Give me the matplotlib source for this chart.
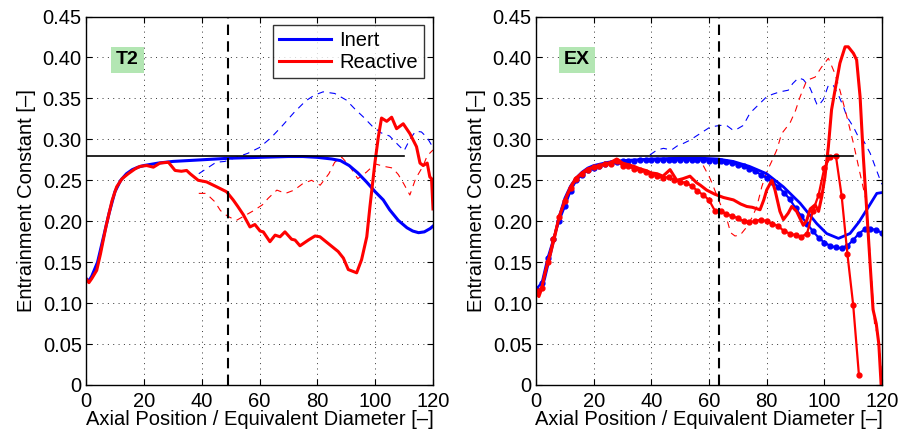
import matplotlib
matplotlib.use("Agg")
import matplotlib.pyplot as plt
from matplotlib.ticker import FixedLocator, FuncFormatter

plt.rcParams['font.family'] = ['Liberation Sans', 'DejaVu Sans']

# ---------------- Data: T2 (left) ----------------
t2_inert_x = [0, 1, 2, 4, 6, 8, 10, 12, 14, 16, 18, 20, 25, 30, 35, 40, 50, 60, 70, 75, 80, 85,
              88, 91, 94, 97, 100, 102.8, 105, 108, 111, 113, 115, 117, 119, 120]
t2_inert_y = [0.130, 0.127, 0.133, 0.150, 0.180, 0.210, 0.236, 0.250, 0.258, 0.263, 0.266, 0.268,
              0.271, 0.273, 0.274, 0.275, 0.277, 0.278, 0.279, 0.279, 0.278, 0.276,
              0.274, 0.268, 0.259, 0.248, 0.236, 0.226, 0.214, 0.201, 0.192, 0.188, 0.186, 0.187,
              0.191, 0.194]

t2_react_x = [0, 1, 2, 3.7, 5, 7, 9, 10.6, 12.5, 14.6, 17, 18.7, 21, 23.3, 25.6, 28.5, 30.8, 33,
              34.8, 36, 38.8, 41.7, 45.2, 48.6, 50.9, 52.5, 54.4, 56.7, 58.4, 60.2, 61.3, 63.6,
              65.4, 67.1, 68.8, 71.1, 72.3, 74, 76.9, 79.2, 80.9, 84.4, 87.2, 89, 90.7, 93.6,
              95.3, 97.1, 98.2, 99.9, 101.1, 102.2, 104, 105.7, 107.4, 109.7, 112, 114.3, 115.5,
              116.6, 118, 118.9, 119.5, 120]
t2_react_y = [0.130, 0.125, 0.130, 0.140, 0.160, 0.195, 0.225, 0.242, 0.252, 0.258, 0.264, 0.267,
              0.268, 0.266, 0.271, 0.272, 0.262, 0.261, 0.262, 0.258, 0.250, 0.248, 0.242, 0.236,
              0.226, 0.218, 0.208, 0.193, 0.196, 0.188, 0.187, 0.175, 0.183, 0.181, 0.187, 0.178,
              0.177, 0.170, 0.177, 0.182, 0.181, 0.171, 0.163, 0.155, 0.141, 0.137, 0.153, 0.181,
              0.218, 0.271, 0.303, 0.326, 0.322, 0.327, 0.313, 0.319, 0.307, 0.291, 0.271, 0.268,
              0.271, 0.254, 0.252, 0.215]

t2_inert_dash_x = [39, 42, 45, 48, 52, 56, 60, 64, 68, 72, 76, 79, 82, 86, 90, 93, 96, 99, 102,
                   105, 108, 110, 112, 114, 116, 118, 120]
t2_inert_dash_y = [0.258, 0.265, 0.272, 0.273, 0.278, 0.283, 0.290, 0.302, 0.317, 0.333, 0.347,
                   0.354, 0.358, 0.356, 0.348, 0.337, 0.327, 0.316, 0.308, 0.304, 0.293, 0.286,
                   0.300, 0.310, 0.309, 0.302, 0.290]

t2_react_dash_x = [39, 41.5, 44.5, 46.5, 49, 52, 55, 58, 61, 63, 66, 69, 72, 75, 78, 81, 84, 86,
                   88.5, 91, 94, 97, 100, 103, 106, 108, 110, 112, 114, 116.5, 118, 120]
t2_react_dash_y = [0.234, 0.234, 0.224, 0.213, 0.206, 0.201, 0.207, 0.213, 0.220, 0.228, 0.238,
                   0.234, 0.238, 0.246, 0.250, 0.244, 0.258, 0.272, 0.278, 0.268, 0.252, 0.260,
                   0.270, 0.267, 0.265, 0.257, 0.245, 0.232, 0.252, 0.267, 0.280, 0.287]

# ---------------- Data: EX (right) ----------------
ex_inert_x = [0, 1, 2, 3, 4, 5, 6, 8, 10, 12, 14, 16, 18, 20, 25, 30, 40, 50, 57, 63, 68.4, 74,
              80, 85.8, 91.6, 97.4, 100.8, 104.9, 108.9, 112, 114.7, 118.2, 120]
ex_inert_y = [0.115, 0.112, 0.118, 0.130, 0.145, 0.160, 0.175, 0.205, 0.228, 0.243, 0.253, 0.260,
              0.265, 0.268, 0.272, 0.274, 0.276, 0.277, 0.277, 0.276, 0.273, 0.267, 0.258, 0.242,
              0.222, 0.197, 0.185, 0.179, 0.185, 0.199, 0.214, 0.234, 0.235]

ex_inert_mk_x = list(range(0, 121, 2))
ex_inert_mk_y = [0.117, 0.125, 0.155, 0.178, 0.200, 0.218, 0.237, 0.250, 0.257, 0.262, 0.265,
                 0.268, 0.270, 0.271, 0.272, 0.273, 0.274, 0.274, 0.275, 0.275, 0.275, 0.275,
                 0.275, 0.275, 0.275, 0.275, 0.275, 0.275, 0.275, 0.275, 0.274, 0.274, 0.273,
                 0.272, 0.271, 0.269, 0.267, 0.264, 0.261, 0.257, 0.253, 0.248, 0.242, 0.235,
                 0.227, 0.216, 0.206, 0.197, 0.188, 0.180, 0.174, 0.170, 0.168, 0.167, 0.170,
                 0.177, 0.185, 0.190, 0.191, 0.189, 0.186]

ex_react_x = [0, 1, 2, 3, 4, 5, 6.6, 8, 9.5, 11, 12.5, 14, 16, 18, 20, 22, 24, 26, 28, 30, 32, 34,
              36, 38, 40, 42, 44, 46.5, 48.8, 51, 53.4, 55.7, 57, 59.2, 62, 65, 68.5, 71, 73.1,
              75, 77.7, 79, 80, 81.8, 82.9, 84.6, 85.8, 87.5, 88.7, 90.4, 92.7, 93.9, 95.1, 96.8,
              98, 99.1, 100.2, 101.4, 102.5, 103.7, 105.4, 107.2, 108.3, 110.1, 111.2, 112.4,
              113.5, 114.5, 115.8, 116.9, 118, 118.9, 119.7]
ex_react_y = [0.113, 0.108, 0.118, 0.135, 0.148, 0.160, 0.183, 0.205, 0.220, 0.234, 0.245, 0.253,
              0.259, 0.264, 0.266, 0.268, 0.270, 0.272, 0.276, 0.271, 0.269, 0.267, 0.264, 0.262,
              0.259, 0.258, 0.255, 0.263, 0.250, 0.252, 0.255, 0.247, 0.244, 0.238, 0.233, 0.229,
              0.226, 0.221, 0.218, 0.217, 0.214, 0.226, 0.238, 0.250, 0.238, 0.212, 0.202, 0.210,
              0.218, 0.212, 0.195, 0.201, 0.215, 0.220, 0.212, 0.230, 0.254, 0.291, 0.336, 0.360,
              0.393, 0.413, 0.413, 0.405, 0.397, 0.352, 0.280, 0.225, 0.152, 0.092, 0.075, 0.050,
              0.000]

ex_react_mk_x = list(range(0, 113, 2))
ex_react_mk_y = [0.115, 0.118, 0.150, 0.178, 0.205, 0.225, 0.240, 0.252, 0.258, 0.263, 0.266,
                 0.268, 0.270, 0.270, 0.274, 0.268, 0.267, 0.264, 0.262, 0.260, 0.257, 0.255,
                 0.253, 0.254, 0.250, 0.248, 0.247, 0.243, 0.237, 0.232, 0.226, 0.213, 0.212,
                 0.209, 0.206, 0.204, 0.200, 0.199, 0.200, 0.202, 0.200, 0.197, 0.194, 0.188,
                 0.185, 0.183, 0.181, 0.185, 0.212, 0.232, 0.265, 0.278, 0.280, 0.231, 0.160,
                 0.098, 0.012]

ex_inert_dash_x = [39.5, 42, 44.2, 47, 49, 51.1, 53.4, 56.9, 60.4, 63.8, 66.1, 68, 69, 71.9, 74.2,
                   77.7, 80, 82, 84.6, 87.5, 89, 91, 92.7, 95, 97.4, 98, 99.7, 101.4, 103.1,
                   104.9, 106.6, 107.8, 110.1, 111.8, 113.5, 115.9, 119.3, 120]
ex_inert_dash_y = [0.281, 0.287, 0.289, 0.287, 0.292, 0.295, 0.299, 0.307, 0.315, 0.317, 0.317,
                   0.312, 0.311, 0.317, 0.332, 0.344, 0.352, 0.355, 0.358, 0.360, 0.368, 0.375,
                   0.373, 0.363, 0.343, 0.341, 0.349, 0.366, 0.366, 0.354, 0.340, 0.328, 0.315,
                   0.303, 0.299, 0.283, 0.251, 0.245]

ex_react_dash_x = [58, 60.4, 62, 63.8, 66, 67.5, 69, 70.8, 73.1, 75, 76.6, 78.3, 80, 82, 83.5,
                   85.2, 88.1, 90, 91.6, 93.9, 96.8, 99, 101.4, 102.5, 103.7, 105.4, 107.8, 110.1,
                   112.4, 114.7, 116, 117.4, 118.5, 119.3, 120]
ex_react_dash_y = [0.268, 0.252, 0.238, 0.222, 0.205, 0.186, 0.182, 0.183, 0.193, 0.205, 0.218,
                   0.242, 0.260, 0.275, 0.287, 0.307, 0.320, 0.335, 0.352, 0.372, 0.376, 0.388,
                   0.399, 0.390, 0.380, 0.360, 0.328, 0.295, 0.258, 0.222, 0.150, 0.075, 0.060,
                   0.040, 0.000]

# reference lines
const_value = 0.28
const_x = [0, 110]
t2_station = 49
ex_station = 63.5

x_ticks = [0, 20, 40, 60, 80, 100, 120]
y_ticks = [0, 0.05, 0.10, 0.15, 0.20, 0.25, 0.30, 0.35, 0.40, 0.45]

BLUE = '#0000ff'
RED = '#ff0000'
FS = 14.5

fig = plt.figure(figsize=(9.01, 4.38), dpi=100)
axL = fig.add_axes([86 / 901, 53 / 438, 347 / 901, 368.5 / 438])
axR = fig.add_axes([536 / 901, 53 / 438, 346 / 901, 368.5 / 438])


def style(ax, tag):
    ax.set_xlim(0, 120)
    ax.set_ylim(0, 0.45)
    ax.xaxis.set_major_locator(FixedLocator(x_ticks))
    ax.yaxis.set_major_locator(FixedLocator(y_ticks))
    ax.yaxis.set_major_formatter(FuncFormatter(lambda v, p: '0' if abs(v) < 1e-9 else f'{v:.2f}'))
    ax.tick_params(direction='in', top=True, right=True, length=4, width=0.8,
                   labelsize=FS)
    ax.tick_params(axis='x', pad=5)
    ax.tick_params(axis='y', pad=3)
    ax.grid(True, color='#333333', linestyle=(0, (1, 4.5)), linewidth=0.7)
    for s in ax.spines.values():
        s.set_linewidth(1.0)
        s.set_color('black')
    ax.set_xlabel('Axial Position / Equivalent Diameter [–]', fontsize=FS, labelpad=-1)
    ax.set_ylabel('Entrainment Constant [–]', fontsize=FS, labelpad=5)
    ax.text(14.3, 0.397, tag, fontsize=14, fontweight='bold', ha='center', va='center',
            bbox=dict(boxstyle='square,pad=0.25', facecolor='#b3e6b3', edgecolor='none'),
            zorder=6)


# Left panel
axL.plot(t2_inert_dash_x, t2_inert_dash_y, color=BLUE, lw=0.8, dashes=(6, 5))
axL.plot(t2_react_dash_x, t2_react_dash_y, color=RED, lw=0.8, dashes=(6, 5))
hI, = axL.plot(t2_inert_x, t2_inert_y, color=BLUE, lw=2.2, label='Inert')
hR, = axL.plot(t2_react_x, t2_react_y, color=RED, lw=2.2, label='Reactive')
axL.plot(const_x, [const_value, const_value], color='black', lw=1.2, zorder=5)
axL.axvline(t2_station, color='black', lw=1.5, dashes=(5, 3), zorder=5)
style(axL, 'T2')
leg = axL.legend(handles=[hI, hR], loc='upper right', bbox_to_anchor=(0.974, 0.977),
                 borderaxespad=0, fontsize=FS, frameon=True, fancybox=False,
                 handlelength=2.6, handletextpad=0.4, borderpad=0.3, labelspacing=0.15)
leg.get_frame().set_edgecolor('black')
leg.get_frame().set_linewidth(1.0)
leg.set_zorder(7)

# Right panel
axR.plot(ex_inert_dash_x, ex_inert_dash_y, color=BLUE, lw=0.8, dashes=(6, 5))
axR.plot(ex_react_dash_x, ex_react_dash_y, color=RED, lw=0.8, dashes=(6, 5))
axR.plot(ex_inert_x, ex_inert_y, color=BLUE, lw=2.0)
axR.plot(ex_inert_mk_x, ex_inert_mk_y, color=BLUE, lw=1.6, marker='o', markersize=3.5)
axR.plot(ex_react_x, ex_react_y, color=RED, lw=2.2)
axR.plot(ex_react_mk_x, ex_react_mk_y, color=RED, lw=1.6, marker='o', markersize=3.5)
axR.plot(const_x, [const_value, const_value], color='black', lw=1.2, zorder=5)
axR.axvline(ex_station, color='black', lw=1.5, dashes=(5, 3), zorder=5)
style(axR, 'EX')

fig.savefig('out.png', dpi=100)
